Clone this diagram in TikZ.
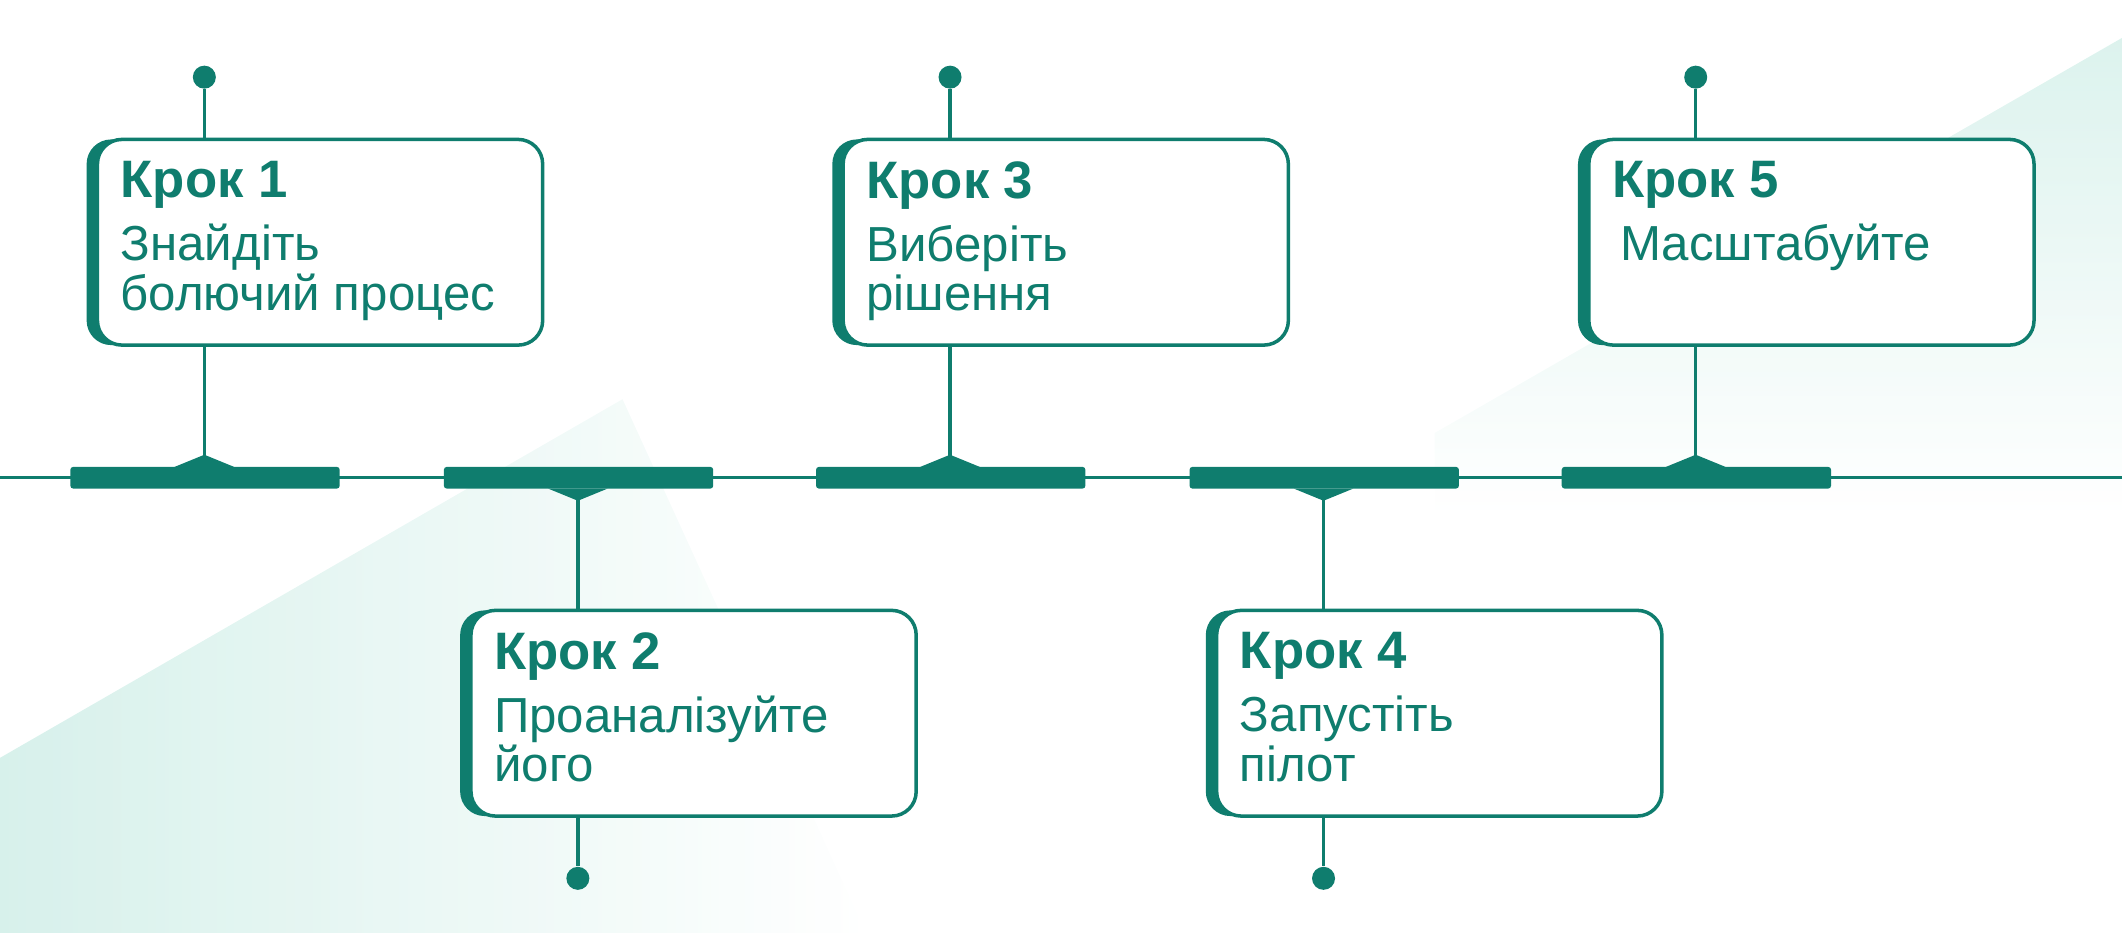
\documentclass[tikz,border=0pt]{standalone}
\usepackage{fontspec}
\setmainfont{Liberation Sans}
\usetikzlibrary{positioning}
\definecolor{teal1}{HTML}{0F7D6E}
\definecolor{mint}{HTML}{CDEDE6}
\newcommand\px{0.013533cm}
\tikzset{
  stem/.style={draw=teal1, line width=1pt},
  box/.style={draw=teal1, fill=white, line width=1pt, rounded corners=7pt,
    minimum width={329*\px}, minimum height={152*\px}, inner sep=0pt},
  back/.style={fill=teal1, rounded corners=7pt},
  bar/.style={fill=teal1, rounded corners=0.8pt},
  txt/.style={anchor=north west, align=left, text=teal1, font=\fontsize{14}{14}\selectfont, inner sep=0pt},
  dot/.style={circle, fill=teal1, inner sep=0pt, minimum size={17*\px}}
}
\begin{document}
\begin{tikzpicture}[x=\px, y=-\px]
	\useasboundingbox (0,0) rectangle (1568,689.4);
	% background
	\shade[left color=mint, right color=white, opacity=0.8]
	(0,560) -- (460,295) -- (640,689.4) -- (0,689.4) -- cycle;
	\shade[top color=mint, bottom color=white, opacity=0.7]
	(1060,320) -- (1568,28) -- (1568,380) -- (1060,380) -- cycle;
	% main line
	\draw[stem] (0,353) -- (1568,353);
	% steps: number, x, side (1 = up, -1 = down), text
	\foreach \n/\cx/\s/\txt in {1/151/1/{Знайдіть\\болючий процес},
		2/427/-1/{Проаналізуйте\\його},
		3/702/1/{Виберіть\\рішення},
		4/978/-1/{Запустіть\\пілот},
		5/1253/1/{\,Масштабуйте}}{
		\fill[bar] (\cx-99,345) rectangle (\cx+100,361);
		\fill[teal1] (\cx-22,353-8*\s) -- (\cx,353-17*\s) -- (\cx+22,353-8*\s) -- cycle;
		\coordinate (p\n) at (\cx,353-12*\s);
		\node[dot] (d\n) at (\cx,353-296*\s) {};
		\draw[stem] (d\n) -- (p\n);
		\fill[back] (\cx-87,353-174*\s-76) rectangle (\cx+242,353-174*\s+76);
		\node[box] (s\n) at (\cx+85.5,353-174*\s) {};
		\node[txt] (t\n) at ([xshift={18*\px}, yshift={-17*\px}]s\n.north west)
			{\fontsize{15}{15}\selectfont\textbf{Крок \n}\\[4pt]\txt};
	}
\end{tikzpicture}
\end{document}
